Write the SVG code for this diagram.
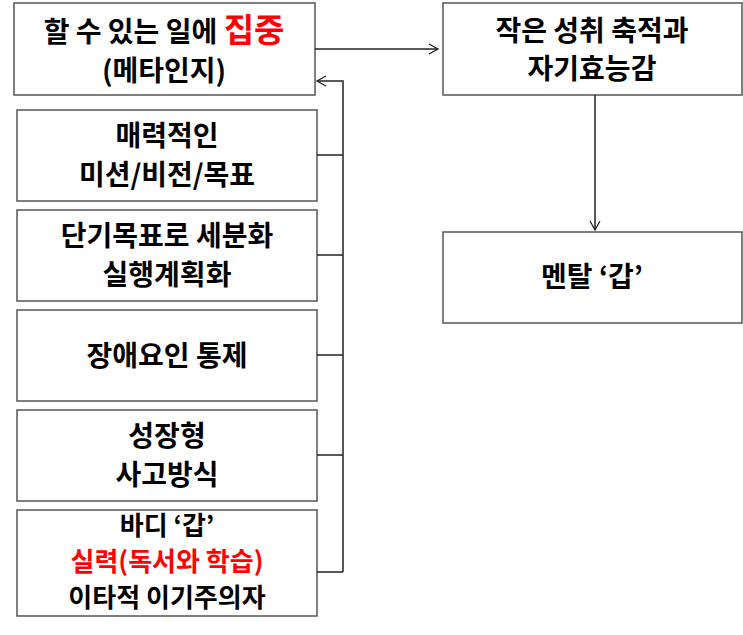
<svg xmlns="http://www.w3.org/2000/svg" width="743" height="635" viewBox="0 0 743 635">
<style>
.b{fill:#fff;stroke:#555;stroke-width:1.5}
.t{font-family:"Noto Sans CJK KR","Liberation Sans",sans-serif;font-size:28px;font-weight:bold;text-anchor:middle;fill:#000}
.s{font-size:26px}
.r{fill:#f00}
.c{fill:none;stroke:#222;stroke-width:1.5}
</style>
<defs><marker id="a" markerWidth="12" markerHeight="12" refX="10" refY="6" orient="auto" markerUnits="userSpaceOnUse"><path d="M1,1 L10,6 L1,11" fill="none" stroke="#222" stroke-width="1.3"/></marker></defs>
<g id="n1"><rect class="b" x="14" y="3" width="301" height="92"/><text class="t" x="164" y="42">할 수 있는 일에 <tspan class="r" font-size="33">집중</tspan></text><text class="t" x="164" y="81">(메타인지)</text></g>
<g id="n2"><rect class="b" x="17" y="110" width="300" height="91"/><text class="t" x="167" y="146">매력적인</text><text class="t" x="167" y="185">미션/비전/목표</text></g>
<g id="n3"><rect class="b" x="17" y="210" width="300" height="91"/><text class="t" x="167" y="246">단기목표로 세분화</text><text class="t" x="167" y="285">실행계획화</text></g>
<g id="n4"><rect class="b" x="17" y="310" width="300" height="91"/><text class="t" x="167" y="366">장애요인 통제</text></g>
<g id="n5"><rect class="b" x="17" y="410" width="300" height="91"/><text class="t" x="167" y="446">성장형</text><text class="t" x="167" y="485">사고방식</text></g>
<g id="n6"><rect class="b" x="17" y="510" width="300" height="106"/><text class="t s" x="167" y="535">바디 ‘갑’</text><text class="t s r" x="167" y="571">실력(독서와 학습)</text><text class="t s" x="167" y="607">이타적 이기주의자</text></g>
<g id="n7"><rect class="b" x="443" y="3" width="299" height="92"/><text class="t" x="592" y="41">작은 성취 축적과</text><text class="t" x="592" y="79">자기효능감</text></g>
<g id="n8"><rect class="b" x="443" y="232" width="299" height="91"/><text class="t" x="592" y="287">멘탈 ‘갑’</text></g>
<g id="connectors">
<path class="c" d="M315,49 H438" marker-end="url(#a)"/>
<path class="c" d="M343,572 V81 H317" marker-end="url(#a)"/>
<path class="c" d="M317,155 H343 M317,255 H343 M317,355 H343 M317,455 H343 M317,572 H343"/>
<path class="c" d="M595,95 V230" marker-end="url(#a)"/>
</g>
</svg>
